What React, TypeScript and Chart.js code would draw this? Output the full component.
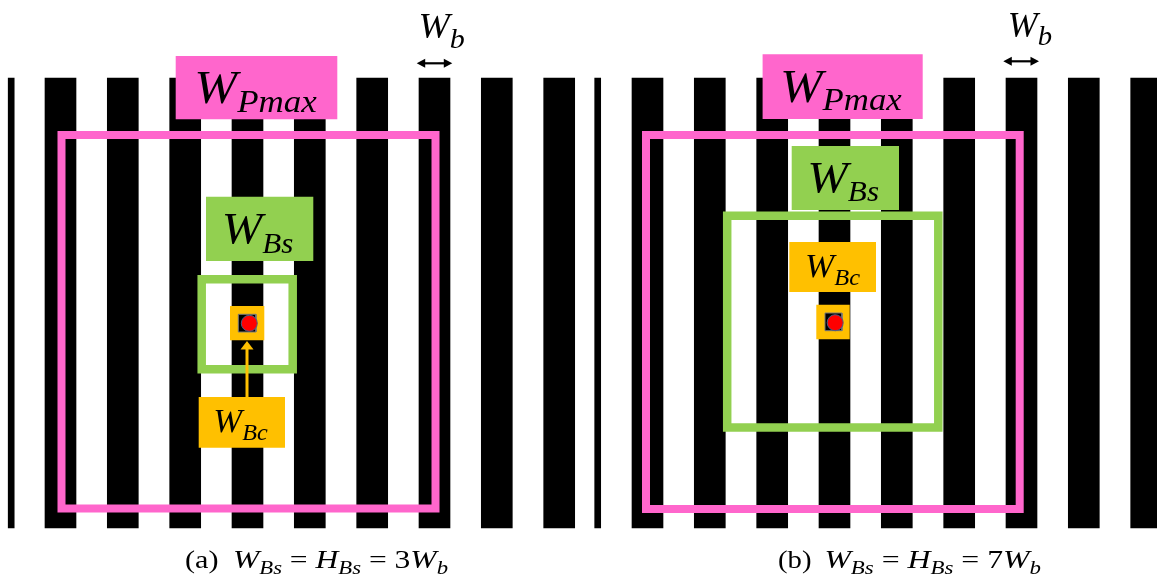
import React, { useEffect, useRef } from 'react';
import { Chart, registerables } from 'chart.js';

Chart.register(...registerables);

const WIDTH = 1157;
const HEIGHT = 583;

// ---------- data (diagram coordinates, x → right, y → down) ----------
const stripeSpan = [78, 528];
const stripeCentres = [
  60.5, 122.8, 185.2, 247.5, 309.8, 372.2, 434.5, 496.8, 559.2,
  647.5, 709.8, 772.2, 834.5, 896.8, 959.2, 1021.5, 1083.8, 1146.2,
];
const edgeStripeCentres = [11.2, 597.7];

// rectangles: [left, top, right, bottom]
const pinkFrames = [
  [61.5, 135, 435.5, 508.5],
  [646, 135, 1019.7, 509],
];
const greenFrames = [
  [201.7, 279.2, 292.7, 369.2],
  [727.2, 215.8, 938.3, 427.5],
];
const pinkBoxes = [
  [175.7, 56, 337.3, 119.3],
  [762.6, 54.3, 922.7, 119],
];
const greenBoxes = [
  [206, 196.7, 313.3, 261],
  [791.7, 146, 899, 210],
];
const orangeBoxes = [
  [198.7, 397, 285, 447.7],
  [789.3, 242, 876, 292],
  [230, 306, 264.3, 340.3],
  [816.3, 304.7, 849.7, 339.3],
];
const blackSquares = [
  [238.3, 314.3, 256, 332],
  [825, 313, 842, 330.7],
];
const redDots = [
  { x: 249.3, y: 323.3 },
  { x: 835.2, y: 322.7 },
];
// orange pointer arrow: x, from y (tail) to y (tip)
const pointerArrow = { x: 247, tail: 397, tip: 341 };
// W_b double arrows
const wbArrows = [
  { x0: 416.7, x1: 452.3, y: 63.3 },
  { x0: 1003.3, x1: 1039, y: 61.3 },
];

// ---------- text ----------
type Run = [string, 'i' | 's' | 'u'];
const runsPmax: Run[] = [['W', 'i'], ['Pmax', 's']];
const runsBs: Run[] = [['W', 'i'], ['Bs', 's']];
const runsBc: Run[] = [['W', 'i'], ['Bc', 's']];
const runsWb: Run[] = [['W', 'i'], ['b', 's']];
const runsCapA: Run[] = [['(a)', 'u']];
const runsCapB: Run[] = [['(b)', 'u']];
const runsEq3: Run[] = [['W', 'i'], ['Bs', 's'], [' = ', 'u'], ['H', 'i'], ['Bs', 's'], [' = 3', 'u'], ['W', 'i'], ['b', 's']];
const runsEq7: Run[] = [['W', 'i'], ['Bs', 's'], [' = ', 'u'], ['H', 'i'], ['Bs', 's'], [' = 7', 'u'], ['W', 'i'], ['b', 's']];

const textPlacements = [
  { runs: runsPmax, x0: 194.3, x1: 316.7, base: 103.3, size: 46, sub: 0.68, subDy: 8.4 },
  { runs: runsPmax, x0: 780, x1: 901.7, base: 101.5, size: 46, sub: 0.68, subDy: 8.4 },
  { runs: runsBs, x0: 221.7, x1: 293.3, base: 243.3, size: 45, sub: 0.64, subDy: 9.6 },
  { runs: runsBs, x0: 807.3, x1: 879, base: 191.7, size: 45, sub: 0.64, subDy: 9.6 },
  { runs: runsBc, x0: 213.3, x1: 267.7, base: 431.7, size: 33, sub: 0.7, subDy: 8.3 },
  { runs: runsBc, x0: 805, x1: 860, base: 276.7, size: 33, sub: 0.7, subDy: 8.3 },
  { runs: runsWb, x0: 418.5, x1: 464.8, base: 38.3, size: 35, sub: 0.8, subDy: 9.7 },
  { runs: runsWb, x0: 1007.8, x1: 1052, base: 36.7, size: 35, sub: 0.8, subDy: 8.3 },
  { runs: runsCapA, x0: 185, x1: 218.5, base: 568.3, size: 25, sub: 0.72, subDy: 0 },
  { runs: runsEq3, x0: 233, x1: 448, base: 568.3, size: 25, sub: 0.72, subDy: 6 },
  { runs: runsCapB, x0: 778, x1: 811.5, base: 568.3, size: 25, sub: 0.72, subDy: 0 },
  { runs: runsEq7, x0: 824.4, x1: 1041, base: 568.3, size: 25, sub: 0.72, subDy: 6 },
];

// ---------- colours ----------
const PINK = '#FF66CC';
const GREEN = '#92D050';
const ORANGE = '#FFC000';
const FONT = '"Liberation Serif", "Times New Roman", serif';

const rectOutline = (r: number[]) => [
  { x: r[0], y: r[1] }, { x: r[2], y: r[1] }, { x: r[2], y: r[3] },
  { x: r[0], y: r[3] }, { x: r[0], y: r[1] }, { x: r[2], y: r[1] },
];
const rectFill = (r: number[]) => [
  { x: r[0], y: r[1] }, { x: r[2], y: r[1] }, { x: r[2], y: r[3] }, { x: r[0], y: r[3] },
];

const lineSet = (data: any[], color: string, order: number, opts: any = {}) => ({
  type: 'line',
  data,
  borderColor: color,
  backgroundColor: color,
  borderWidth: 0,
  fill: false,
  pointRadius: 0,
  pointHoverRadius: 0,
  tension: 0,
  borderJoinStyle: 'miter',
  borderCapStyle: 'butt',
  clip: false,
  order,
  ...opts,
});

function buildDatasets() {
  const ds: any[] = [];
  ds.push({
    type: 'bar',
    data: stripeCentres.map((x) => ({ x, y: stripeSpan })),
    backgroundColor: '#000000',
    barThickness: 31,
    grouped: false,
    borderWidth: 0,
    order: 50,
  });
  ds.push({
    type: 'bar',
    data: edgeStripeCentres.map((x) => ({ x, y: stripeSpan })),
    backgroundColor: '#000000',
    barThickness: 6,
    grouped: false,
    borderWidth: 0,
    order: 49,
  });
  pinkFrames.forEach((r) => ds.push(lineSet(rectOutline(r), PINK, 40, { borderWidth: 8 })));
  pinkBoxes.forEach((r) => ds.push(lineSet(rectFill(r), PINK, 39, { fill: 'shape', borderColor: 'rgba(0,0,0,0)' })));
  greenFrames.forEach((r) => ds.push(lineSet(rectOutline(r), GREEN, 38, { borderWidth: 8.5 })));
  greenBoxes.forEach((r) => ds.push(lineSet(rectFill(r), GREEN, 37, { fill: 'shape', borderColor: 'rgba(0,0,0,0)' })));
  orangeBoxes.forEach((r) => ds.push(lineSet(rectFill(r), ORANGE, 36, { fill: 'shape', borderColor: 'rgba(0,0,0,0)' })));
  blackSquares.forEach((r) =>
    ds.push(lineSet([...rectFill(r), { x: r[0], y: r[1] }], '#000000', 35, { fill: 'shape', borderColor: '#7a7a7a', borderWidth: 1 }))
  );
  ds.push(
    lineSet(redDots, '#FF0000', 34, {
      showLine: false,
      pointRadius: 8,
      pointBackgroundColor: '#FF0000',
      pointBorderColor: '#4a5f86',
      pointBorderWidth: 1,
    })
  );
  const a = pointerArrow;
  ds.push(lineSet([{ x: a.x, y: a.tail }, { x: a.x, y: a.tip + 7 }], ORANGE, 33, { borderWidth: 3 }));
  ds.push(
    lineSet([{ x: a.x, y: a.tip }, { x: a.x - 6.5, y: a.tip + 8.5 }, { x: a.x + 6.5, y: a.tip + 8.5 }], ORANGE, 33, {
      fill: 'shape',
      borderColor: 'rgba(0,0,0,0)',
    })
  );
  wbArrows.forEach((w) => {
    ds.push(lineSet([{ x: w.x0 + 6, y: w.y }, { x: w.x1 - 6, y: w.y }], '#000000', 32, { borderWidth: 2.2 }));
    ds.push(
      lineSet([{ x: w.x0, y: w.y }, { x: w.x0 + 8.5, y: w.y - 4.5 }, { x: w.x0 + 8.5, y: w.y + 4.5 }], '#000000', 32, {
        fill: 'shape',
        borderColor: 'rgba(0,0,0,0)',
      })
    );
    ds.push(
      lineSet([{ x: w.x1, y: w.y }, { x: w.x1 - 8.5, y: w.y - 4.5 }, { x: w.x1 - 8.5, y: w.y + 4.5 }], '#000000', 32, {
        fill: 'shape',
        borderColor: 'rgba(0,0,0,0)',
      })
    );
  });
  return ds;
}

const fontFor = (kind: string, size: number, sub: number) =>
  kind === 'u' ? `${size}px ${FONT}` : kind === 's' ? `italic ${size * sub}px ${FONT}` : `italic ${size}px ${FONT}`;

const mathTextPlugin = {
  id: 'mathText',
  afterDatasetsDraw(chart: any) {
    const ctx: CanvasRenderingContext2D = chart.ctx;
    const xs = chart.scales.x;
    const ys = chart.scales.y;
    ctx.save();
    ctx.fillStyle = '#000000';
    ctx.textBaseline = 'alphabetic';
    ctx.textAlign = 'left';
    for (const p of textPlacements) {
      let natural = 0;
      for (const [t, k] of p.runs) {
        ctx.font = fontFor(k, p.size, p.sub);
        natural += ctx.measureText(t).width;
      }
      const px0 = xs.getPixelForValue(p.x0);
      const px1 = xs.getPixelForValue(p.x1);
      const base = ys.getPixelForValue(p.base);
      const subDy = ys.getPixelForValue(p.base + p.subDy) - base;
      const sx = (px1 - px0) / natural;
      ctx.save();
      ctx.translate(px0, 0);
      ctx.scale(sx, 1);
      let cx = 0;
      for (const [t, k] of p.runs) {
        ctx.font = fontFor(k, p.size, p.sub);
        ctx.fillText(t, cx, k === 's' ? base + subDy : base);
        cx += ctx.measureText(t).width;
      }
      ctx.restore();
    }
    ctx.restore();
  },
};

export default function App() {
  const ref = useRef<HTMLCanvasElement>(null);
  useEffect(() => {
    const canvas = ref.current;
    if (!canvas) return;
    const prevMargin = document.body.style.margin;
    document.body.style.margin = '0';
    const chart = new Chart(canvas, {
      type: 'bar',
      data: { datasets: buildDatasets() } as any,
      options: {
        animation: false,
        responsive: false,
        devicePixelRatio: 1,
        events: [],
        layout: { padding: 0, autoPadding: false },
        plugins: { legend: { display: false }, tooltip: { enabled: false } },
        scales: {
          x: { type: 'linear', min: 0, max: WIDTH, offset: false, display: false },
          y: { type: 'linear', min: 0, max: HEIGHT, reverse: true, display: false },
        },
      } as any,
      plugins: [mathTextPlugin],
    });
    return () => {
      chart.destroy();
      document.body.style.margin = prevMargin;
    };
  }, []);
  return (
    <div style={{ width: WIDTH, height: HEIGHT, background: '#ffffff', margin: 0, padding: 0 }}>
      <canvas ref={ref} width={WIDTH} height={HEIGHT} style={{ display: 'block', width: WIDTH, height: HEIGHT }} />
    </div>
  );
}
